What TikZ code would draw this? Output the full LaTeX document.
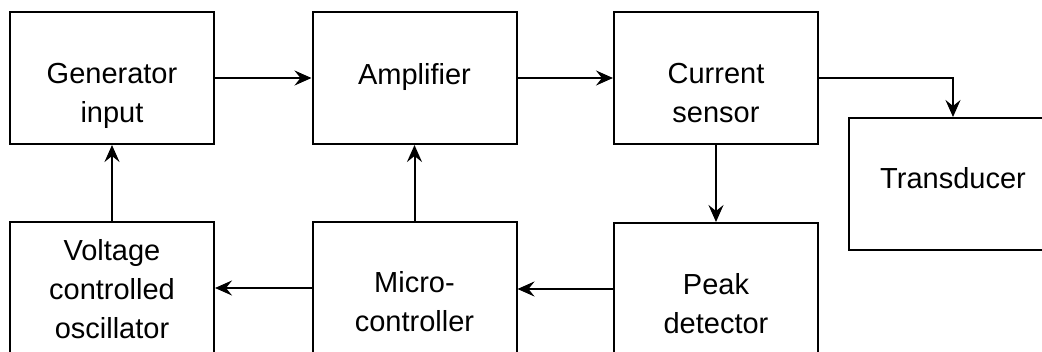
\documentclass[tikz,border=0pt]{standalone}
\usepackage{fontspec}
\setmainfont{Liberation Sans}
\usetikzlibrary{arrows.meta}

\begin{document}
\begin{tikzpicture}[x=1pt,y=-1pt,
      block/.style={draw, line width=2pt, minimum width=204pt, minimum height=132pt, inner sep=0pt},
      txt/.style={font=\fontsize{29}{39}\selectfont, align=center, anchor=north, inner sep=0pt},
      link/.style={line width=2pt, -{Stealth[length=17pt,width=15pt,inset=6pt]}}]
      \useasboundingbox (0,0) rectangle (1042,351);
      % top row
      \node[block] (gen) at (112,78) {};
      \node[block] (amp) at (414.5,78) {};
      \node[block] (sens) at (716,78) {};
      \node[block, minimum width=208pt] (trans) at (953,184) {};
      % bottom row
      \node[block] (vco) at (112,288) {};
      \node[block] (mcu) at (414.5,288) {};
      \node[block] (peak) at (716,289) {};
      % texts
      \node[txt] (genT) at ([yshift=-52pt]gen.north) {Generator\\input};
      \node[txt] (ampT) at ([yshift=-52pt]amp.north) {Amplifier};
      \node[txt] (sensT) at ([yshift=-52pt]sens.north) {Current\\sensor};
      \node[txt] (transT) at ([yshift=-50pt]trans.north) {Transducer};
      \node[txt] (vcoT) at ([yshift=-18pt]vco.north) {Voltage\\controlled\\oscillator};
      \node[txt] (mcuT) at ([yshift=-50pt]mcu.north) {Micro-\\controller};
      \node[txt] (peakT) at ([yshift=-51pt]peak.north) {Peak\\detector};
      % connectors
      \draw[link] (gen) -- (amp);
      \draw[link] (amp) -- (sens);
      \draw[link] (sens.east) -| (trans.north);
      \draw[link] (sens) -- (peak);
      \draw[link] (peak.west) -- (mcu.east |- peak.west);
      \draw[link] (mcu) -- (vco);
      \draw[link] (mcu) -- (amp);
      \draw[link] (vco) -- (gen);
\end{tikzpicture}
\end{document}
